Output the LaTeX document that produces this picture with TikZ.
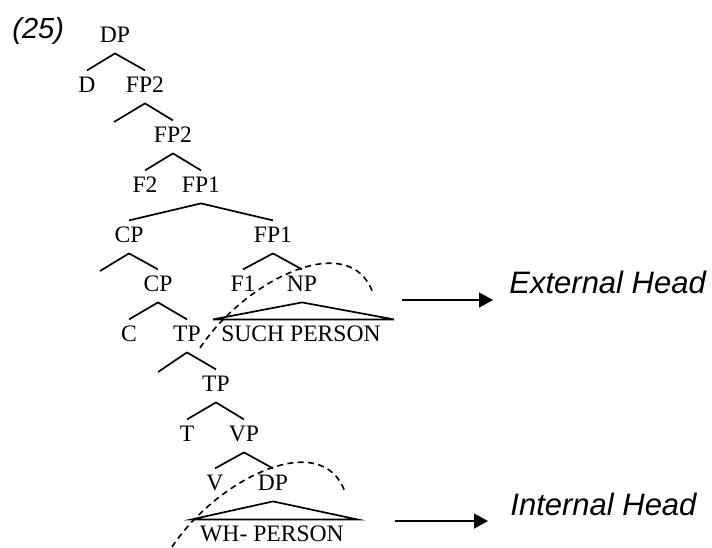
\documentclass[tikz,border=0pt]{standalone}
\usepackage{fontspec}
\setmainfont{Liberation Serif}
\newfontfamily\headfont{Liberation Sans}
\usetikzlibrary{arrows.meta}

\begin{document}
\begin{tikzpicture}[x=0.5pt,y=-0.5pt]
\tikzstyle{cat}=[anchor=base,inner xsep=0pt,inner ysep=3pt,text height=7.6pt,text depth=2.5pt,font=\fontsize{11.8}{13}\selectfont]
\tikzstyle{branch}=[line width=0.85pt]
\tikzstyle{move}=[line width=0.8pt,dash pattern=on 3pt off 2.2pt]
\tikzstyle{lbl}=[anchor=base west,inner sep=0pt,font=\headfont\itshape\fontsize{15.5}{18}\selectfont]
\tikzstyle{pointer}=[line width=0.8pt,-{Triangle[length=7pt,width=7.5pt]}]

\useasboundingbox (0,0) rectangle (712,547);

\node[lbl,font=\headfont\itshape\fontsize{14.5}{17}\selectfont] (num) at (12,38) {(25)};

% the tree
\node[cat] (dp)   at (115,42)  {DP};
\node[cat] (d)    at (87,92)   {D};
\node[cat] (fp2a) at (145,92)  {FP2};
\coordinate (e1)  at (114,122);
\node[cat] (fp2b) at (173,142) {FP2};
\node[cat] (f2)   at (145,192) {F2};
\node[cat] (fp1a) at (201,192) {FP1};
\node[cat] (cpa)  at (129,242) {CP};
\node[cat] (fp1b) at (273,242) {FP1};
\coordinate (e2)  at (100,271);
\node[cat] (cpb)  at (158,291) {CP};
\node[cat] (f1)   at (243,291) {F1};
\node[cat] (np)   at (302,291) {NP};
\node[cat] (c)    at (129,341) {C};
\node[cat] (tpa)  at (187,341) {TP};
\node[cat] (such) at (301,341) {SUCH PERSON};
\coordinate (e3)  at (158,372);
\node[cat] (tpb)  at (216,391) {TP};
\node[cat] (t)    at (187,441) {T};
\node[cat] (vp)   at (244,441) {VP};
\node[cat] (v)    at (215,490) {V};
\node[cat] (dpb)  at (273,490) {DP};
\node[cat] (wh)   at (272,541) {WH- PERSON};

\foreach \p/\c in {dp/d,dp/fp2a,fp2a/fp2b,fp2b/f2,fp2b/fp1a,fp1a/cpa,fp1a/fp1b,
                   cpa/cpb,fp1b/f1,fp1b/np,cpb/c,cpb/tpa,tpa/tpb,tpb/t,tpb/vp,vp/v,vp/dpb}
  \draw[branch] (\p.south) -- (\c.north);
\draw[branch] (fp2a.south) -- (e1);
\draw[branch] (cpa.south) -- (e2);
\draw[branch] (tpa.south) -- (e3);

% triangles
\draw[branch] ([xshift=-4pt]such.north west) -- (np.south) -- ([xshift=6.5pt]such.north east) -- cycle;
\draw[branch] ([xshift=-4pt]wh.north west) -- (dpb.south) -- ([xshift=6.5pt]wh.north east) -- cycle;

% dashed arcs
\coordinate (m1) at (200,348);
\coordinate (m2) at (373,293);
\draw[move] (m1) .. controls (245,280) and (350,228) .. (m2);
\coordinate (m3) at (172,547);
\coordinate (m4) at (345,492);
\draw[move] (m3) .. controls (217,479) and (322,427) .. (m4);

% heads
\node[lbl] (ext) at (509,293) {External Head};
\node[lbl] (int) at (510,515) {Internal Head};
\coordinate (xa) at (402,300);
\coordinate (ia) at (395,521);
\draw[pointer,shorten >=8pt] (xa) -- (xa -| ext.west);
\draw[pointer,shorten >=11pt] (ia) -- (ia -| int.west);

\end{tikzpicture}
\end{document}
